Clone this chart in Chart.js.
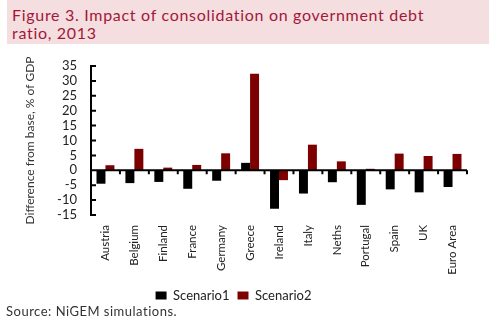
<!DOCTYPE html>
<html>
<head>
<meta charset="utf-8">
<script src="https://cdn.jsdelivr.net/npm/chart.js@4/dist/chart.umd.min.js"></script>
<style>
  body { margin: 0; background: #fff; }
  #wrap { position: relative; width: 500px; height: 327px; overflow: hidden; }
  #title {
    position: absolute; left: 7px; top: 0; width: 482px; height: 44px;
    background: #f5dedf; color: #a3173a;
    font: 16px Lato, sans-serif; line-height: 18px;
    padding: 6px 0 0 5px; box-sizing: border-box; letter-spacing: 0.7px;
  }
  #source {
    position: absolute; left: 6px; top: 303px;
    font: 13px Lato, sans-serif; color: #333; letter-spacing: 0.5px;
  }
  canvas { position: absolute; left: 0; top: 0; }
</style>
</head>
<body>
<div id="wrap">
  <canvas id="debtChart" width="500" height="327"></canvas>
  <div id="title">Figure 3. Impact of consolidation on government debt<br>ratio, 2013</div>
  <div id="source">Source: NiGEM simulations.</div>
</div>
<script>
// Impact of consolidation on government debt ratio, 2013
const countries = ["Austria", "Belgium", "Finland", "France", "Germany", "Greece", "Ireland",
  "Italy", "Neths", "Portugal", "Spain", "UK", "Euro Area"];
const scenario1 = [-4.5, -4.3, -3.9, -6.2, -3.5, 2.5, -12.9, -7.8, -4.0, -11.6, -6.4, -7.4, -5.6];
const scenario2 = [1.7, 7.2, 0.9, 1.8, 5.7, 32.4, -3.3, 8.6, 3.0, 0.5, 5.6, 4.8, 5.5];
const yTicks = [-15, 35, 5]; // min, max, step

// zero line with category ticks, and inward ticks on the value axis
const axisMarks = {
  id: "axisMarks",
  afterDatasetsDraw(chart) {
    const { ctx, chartArea, scales: { x, y } } = chart;
    const y0 = y.getPixelForValue(0);
    ctx.save();
    ctx.strokeStyle = "#000";
    ctx.lineWidth = 2;
    ctx.beginPath();
    ctx.moveTo(chartArea.left, y0);
    ctx.lineTo(chartArea.right, y0);
    for (let i = 0; i < countries.length; i++) {
      const bx = x.getPixelForValue(i + 0.5);
      ctx.moveTo(bx, y0);
      ctx.lineTo(bx, y0 + 4);
    }
    y.ticks.forEach((t) => {
      const py = y.getPixelForValue(t.value);
      ctx.moveTo(chartArea.left, py);
      ctx.lineTo(chartArea.left + 5, py);
    });
    ctx.stroke();
    ctx.restore();
  },
};

const ctx = document.getElementById("debtChart").getContext("2d");

new Chart(ctx, {
  type: "bar",
  data: {
    labels: countries,
    datasets: [
      {
        label: "Scenario1",
        data: scenario1,
        backgroundColor: "#000000",
        barPercentage: 1,
        categoryPercentage: 0.62,
      },
      {
        label: "Scenario2",
        data: scenario2,
        backgroundColor: "#7d0000",
        barPercentage: 1,
        categoryPercentage: 0.62,
      },
    ],
  },
  options: {
    responsive: false,
    animation: false,
    layout: { padding: { top: 66, right: 33, bottom: 15, left: 0 } },
    plugins: {
      legend: {
        position: "bottom",
        labels: {
          boxWidth: 11,
          boxHeight: 8,
          padding: 8,
          color: "#222",
          font: { family: "Lato", size: 13 },
        },
      },
      tooltip: { enabled: false },
    },
    scales: {
      x: {
        grid: { display: false, drawTicks: false },
        border: { display: false },
        ticks: {
          minRotation: 90,
          maxRotation: 90,
          autoSkip: false,
          padding: 10,
          color: "#222",
          font: { family: "Lato", size: 11.5 },
        },
        afterFit(scale) { scale.height = 66; },
      },
      y: {
        min: yTicks[0],
        max: yTicks[1],
        grid: { display: false, drawTicks: false },
        border: { display: true, color: "#000", width: 2 },
        ticks: {
          stepSize: yTicks[2],
          autoSkip: false,
          padding: 14,
          color: "#222",
          font: { family: "Lato", size: 13 },
        },
        title: {
          display: true,
          text: "Difference from base, % of GDP",
          color: "#333",
          font: { family: "Lato", size: 12 },
          padding: { top: 23, bottom: 0 },
        },
        afterFit(scale) { scale.width = 91; },
      },
    },
  },
  plugins: [axisMarks],
});
</script>
</body>
</html>
